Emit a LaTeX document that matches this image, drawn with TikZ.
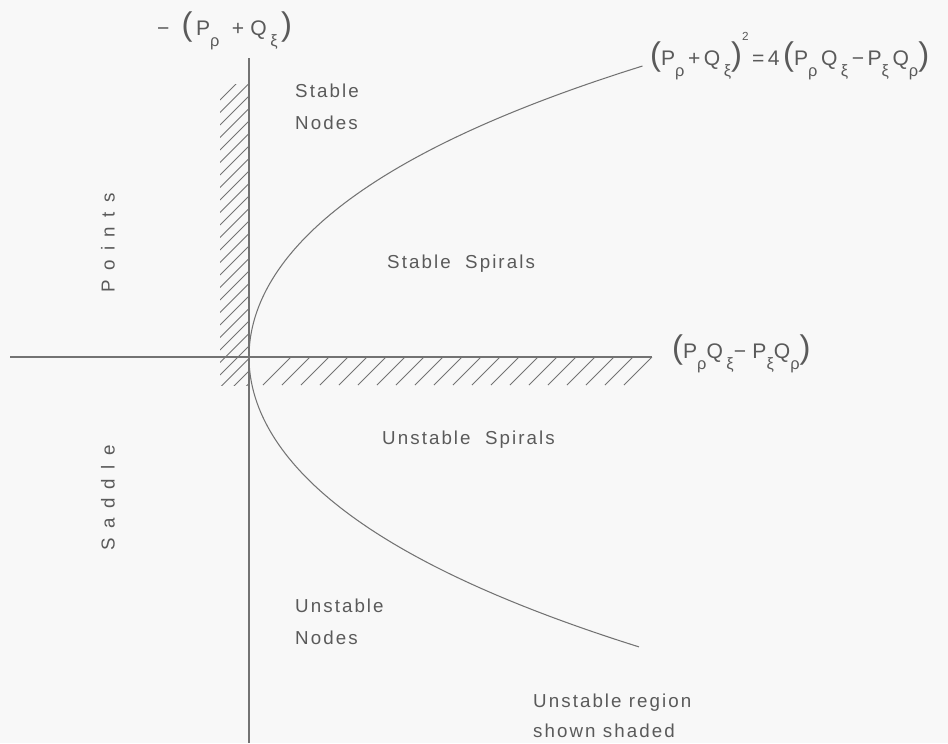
\documentclass[tikz,border=0pt]{standalone}
\usepackage{fontspec}
\setmainfont{Liberation Sans}[LetterSpace=11]
\newfontfamily\spacedfont{Liberation Sans}[LetterSpace=50]
\newfontfamily\formfont{Liberation Sans}[LetterSpace=30]
\usetikzlibrary{positioning}

\definecolor{ink}{HTML}{5A5A5A}
\definecolor{paper}{HTML}{F8F8F8}
\newcommand{\sub}[1]{\raisebox{-1.0ex}{\fontsize{14}{14}\selectfont #1}}
\newcommand{\lpar}{{\fontsize{28}{28}\selectfont(}}
\newcommand{\rpar}{{\fontsize{28}{28}\selectfont)}}

\begin{document}
\begin{tikzpicture}[
  x=0.03cm, y=-0.03cm,
  axis/.style={draw=ink!85, line width=0.9pt},
  hatch/.style={draw=ink!85, line width=0.7pt},
  region/.style={text=ink, font=\fontsize{16}{26.5}\selectfont, align=left, inner sep=0pt, anchor=base west},
  formula/.style={text=ink, font=\formfont\fontsize{18}{20}\selectfont, inner sep=0pt, anchor=base west},
  sidetext/.style={text=ink, font=\spacedfont\fontsize{16}{19}\selectfont, rotate=90, inner sep=0pt}
]
  \fill[paper] (0,0) rectangle (948,743);
  \useasboundingbox (0,0) rectangle (948,743);

  % axes
  \coordinate (xl) at (10,357);
  \coordinate (xr) at (652,357);
  \coordinate (yt) at (249,58);
  \coordinate (yb) at (249,743);
  \draw[axis] (xl) -- (xr);
  \draw[axis] (yt) -- (yb);

  % shaded (unstable) strips
  \begin{scope}
    \clip (220,84) rectangle (249,385);
    \foreach \k in {0,...,26}
      \draw[hatch] (220,100+12.5*\k) -- ++(30,-30);
  \end{scope}
  \foreach \k in {0,...,19}
    \draw[hatch] (624-19*\k,385) -- ++(28,-28);

  % boundary parabola (t in hundreds of px)
  \draw[axis] plot[domain=-2.91:2.90, samples=80, smooth]
    ({249+38*(\x)*(\x)+(\x)*(\x)*(\x)*(\x)}, {357+100*(\x)});

  % axis labels
  \node[formula] (trace) at (157,35) {−\ \lpar\,P\sub{ρ}\ +Q\,\sub{ξ}\,\rpar};
  \node[formula] (disc) at (650,65)
    {\lpar P\sub{ρ}\,+\,Q\,\sub{ξ}\rpar\raisebox{2.2ex}{\fontsize{10}{10}\selectfont 2}\,=\,4\,\lpar P\sub{ρ}\,Q\,\sub{ξ}\,−\,P\sub{ξ}\,Q\sub{ρ}\rpar};
  \node[formula] (det) at (672,358) {\lpar P\sub{ρ}Q\,\sub{ξ}−P\sub{ξ}Q\sub{ρ}\rpar};

  % regions
  \node[region] (snodes) at (295,129) {Stable\\Nodes};
  \node[region] (sspir) at (387,268) {Stable\ \ Spirals};
  \node[region] (uspir) at (382,444) {Unstable\ \ Spirals};
  \node[region] (unodes) at (295,644) {Unstable\\Nodes};
  \node[region, font=\fontsize{16}{25}\selectfont] (shade) at (533,737) {Unstable region\\shown shaded};

  % saddle points, read upwards
  \node[sidetext] (points) at (108,243) {Points};
  \node[sidetext] (saddle) at (108,498) {Saddle};
\end{tikzpicture}
\end{document}
